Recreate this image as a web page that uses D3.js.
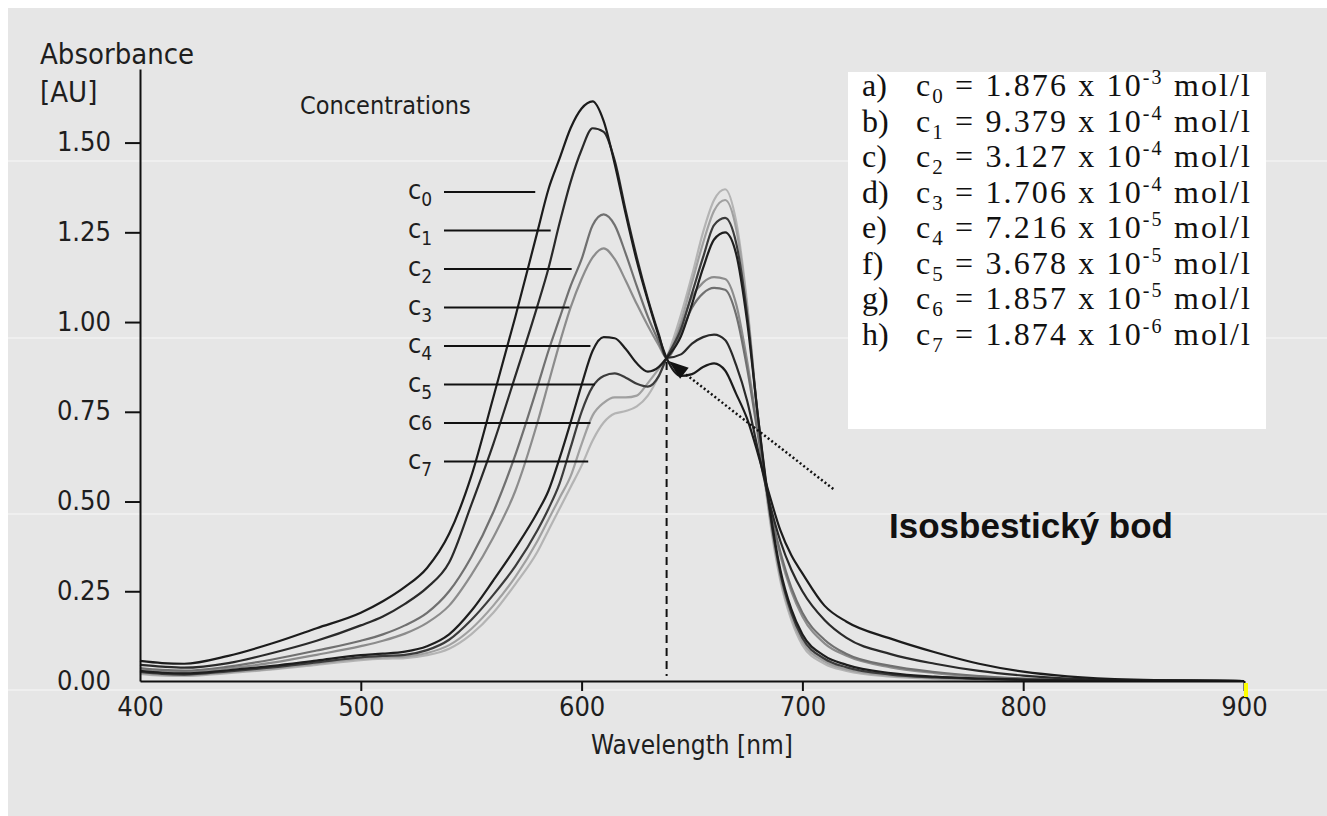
<!DOCTYPE html>
<html>
<head>
<meta charset="utf-8">
<script src="https://cdn.jsdelivr.net/npm/d3@7"></script>
<style>
  body { margin: 0; background: #fff; }
  .ax { font-family: "Liberation Sans Narrow", "Arial Narrow", "DejaVu Sans Condensed", sans-serif; font-stretch: condensed; fill: #1e1e1e; }
  .leg { font-family: "Liberation Serif", "DejaVu Serif", serif; fill: #111; }
</style>
</head>
<body>
<div id="chart"></div>
<script>
// Wavelength grid [nm] shared by all spectra.
const wavelengths = [400,410,420,440,460,480,500,510,520,530,540,550,560,570,580,585,590,595,600,605,610,615,620,625,630,635,638.5,645,650,655,660,665,670,675,680,685,690,695,700,710,720,740,760,780,800,820,850,900];

// Absorbance, one list per concentration.
const c0 = [.056,.050,.048,.070,.105,.147,.190,.222,.262,.315,.410,.570,.790,1.015,1.252,1.37,1.455,1.54,1.595,1.615,1.56,1.44,1.30,1.17,1.06,.96,.90,.85,.855,.875,.885,.865,.80,.73,.63,.52,.42,.35,.30,.21,.165,.118,.080,.048,.026,.013,.004,0];
const c1 = [.045,.040,.037,.050,.078,.112,.155,.180,.215,.260,.330,.490,.660,.850,1.045,1.15,1.275,1.39,1.48,1.54,1.53,1.45,1.31,1.18,1.065,.965,.90,.91,.94,.958,.965,.95,.88,.78,.64,.50,.39,.31,.25,.17,.12,.075,.048,.028,.015,.007,.002,0];
const c2 = [.036,.031,.029,.040,.060,.085,.112,.130,.155,.190,.250,.345,.470,.630,.820,.920,1.01,1.10,1.175,1.27,1.30,1.27,1.19,1.10,1.015,.945,.90,.97,1.04,1.08,1.095,1.09,1.02,.87,.68,.49,.36,.26,.19,.115,.075,.042,.025,.014,.007,.003,.001,0];
const c3 = [.031,.026,.025,.035,.051,.073,.097,.112,.132,.162,.210,.295,.400,.530,.720,.830,.94,1.04,1.12,1.18,1.205,1.175,1.115,1.05,.99,.935,.90,.99,1.07,1.11,1.125,1.12,1.05,.89,.69,.49,.35,.25,.18,.105,.07,.038,.022,.012,.006,.003,.001,0];
const c4 = [.028,.023,.021,.030,.042,.057,.072,.076,.082,.097,.130,.195,.280,.370,.470,.530,.62,.72,.825,.92,.958,.955,.925,.885,.862,.875,.90,.96,1.05,1.15,1.23,1.25,1.19,1.0,.73,.49,.31,.20,.13,.07,.045,.022,.012,.007,.004,.002,.001,0];
const c5 = [.025,.020,.018,.027,.038,.052,.066,.070,.073,.086,.115,.170,.240,.320,.420,.480,.55,.65,.75,.82,.85,.857,.845,.828,.82,.85,.90,.98,1.08,1.18,1.27,1.29,1.22,1.02,.73,.48,.30,.19,.12,.062,.038,.018,.010,.006,.003,.002,.001,0];
const c6 = [.022,.017,.016,.024,.034,.048,.062,.066,.068,.078,.100,.145,.210,.290,.390,.450,.51,.57,.66,.74,.775,.79,.79,.795,.83,.87,.90,1.0,1.11,1.22,1.31,1.34,1.26,1.04,.72,.47,.29,.18,.11,.055,.032,.015,.008,.005,.003,.002,.001,0];
const c7 = [.020,.015,.014,.022,.032,.045,.058,.062,.064,.072,.090,.130,.190,.270,.360,.420,.48,.54,.60,.67,.72,.745,.752,.765,.795,.85,.90,1.02,1.13,1.25,1.34,1.37,1.28,1.05,.72,.46,.28,.17,.10,.048,.028,.012,.006,.004,.002,.001,.001,0];

const series = [c0, c1, c2, c3, c4, c5, c6, c7];
const seriesColors = ["#1c1c1c", "#2a2a2a", "#707070", "#8c8c8c", "#1e1e1e", "#3c3c3c", "#a0a0a0", "#b4b4b4"];

// Concentration labels and where their pointer lines end [nm].
const labelNames = ["0","1","2","3","4","5","6","7"];
const labelEnds = [579, 586, 595.5, 594.5, 604, 606, 604, 603];

// Legend contents.
const legendLetters = ["a)","b)","c)","d)","e)","f)","g)","h)"];
const legendValues = ["1.876","9.379","3.127","1.706","7.216","3.678","1.857","1.874"];
const legendExps = ["-3","-4","-4","-4","-5","-5","-5","-6"];

// Axis ticks.
const xTicks = [400, 500, 600, 700, 800, 900];
const yTicks = [0, 0.25, 0.5, 0.75, 1.0, 1.25, 1.5];

// Isosbestic point and the tail of the arrow pointing at it.
const isoPoint = [638.5, 0.90];
const arrowTail = [714, 0.535];

const width = 1327, height = 816;
const margin = { top: 69, left: 140, bottom: 135, right: 83 };

let svg = d3.select("#chart").append("svg")
    .attr("width", width)
    .attr("height", height);

svg.append("rect")
    .attr("x", 8).attr("y", 8)
    .attr("width", width - 8).attr("height", height - 8)
    .attr("fill", "#e6e6e6");

// faint scan lines of the original
svg.append("g").selectAll("line")
    .data([161, 338, 514, 690])
    .join("line")
    .attr("x1", 8).attr("x2", width)
    .attr("y1", d => d).attr("y2", d => d)
    .attr("stroke", "#fff").attr("stroke-opacity", 0.7).attr("stroke-width", 1);

let x = d3.scaleLinear()
    .domain([400, 900])
    .range([margin.left, width - margin.right]);

let y = d3.scaleLinear()
    .domain([0, 1.705])
    .range([height - margin.bottom, margin.top]);

// Legend box
const legend = svg.append("g");
legend.append("rect")
    .attr("x", 848).attr("y", 72)
    .attr("width", 418).attr("height", 357)
    .attr("fill", "#fff");

legendLetters.forEach(function(l, i) {
    let by = 96 + i * 35.5;
    legend.append("text")
        .attr("class", "leg")
        .attr("x", 862).attr("y", by)
        .style("font-size", "32px")
        .text(l);
    let t = legend.append("text")
        .attr("class", "leg")
        .attr("x", 916).attr("y", by)
        .style("font-size", "32px")
        .attr("textLength", 334)
        .attr("lengthAdjust", "spacing");
    t.append("tspan").text("c");
    t.append("tspan").attr("dy", 7).style("font-size", "21px").text(i);
    t.append("tspan").attr("dy", -7).text(" = " + legendValues[i] + " x 10");
    t.append("tspan").attr("dy", -12).style("font-size", "20px").text(legendExps[i]);
    t.append("tspan").attr("dy", 12).text(" mol/l");
});

// Curves, lightest drawn first
let line = d3.line()
    .x((d, i) => x(wavelengths[i]))
    .y(d => y(d))
    .curve(d3.curveMonotoneX);

let order = d3.range(series.length).sort((a, b) => d3.color(seriesColors[b]).r - d3.color(seriesColors[a]).r);
svg.append("g")
    .selectAll("path")
    .data(order)
    .join("path")
    .attr("d", i => line(series[i]))
    .attr("fill", "none")
    .attr("stroke", i => seriesColors[i])
    .attr("stroke-width", 2.2)
    .attr("stroke-linejoin", "round");

// y-axis
let yAxis = d3.axisLeft(y)
    .tickValues(yTicks)
    .tickFormat(d3.format(".2f"))
    .tickSize(15)
    .tickSizeOuter(0)
    .tickPadding(14);
let yAxisEl = svg.append("g")
    .attr("transform", "translate(" + margin.left + ",0)")
    .call(yAxis);
yAxisEl.select(".domain").attr("stroke", "#111").attr("stroke-width", 2);
yAxisEl.selectAll(".tick line").attr("stroke", "#111").attr("stroke-width", 2)
    .filter(d => d === 0).remove();
yAxisEl.selectAll(".tick text")
    .attr("class", "ax")
    .attr("dy", "0.3em")
    .style("font-size", "27px");

// x-axis
let xAxis = d3.axisBottom(x)
    .tickValues(xTicks)
    .tickSize(10)
    .tickSizeOuter(0)
    .tickPadding(6);
let xAxisEl = svg.append("g")
    .attr("transform", "translate(0," + y(0) + ")")
    .call(xAxis);
xAxisEl.select(".domain").attr("stroke", "#111").attr("stroke-width", 2);
xAxisEl.selectAll(".tick line").attr("stroke", "#111").attr("stroke-width", 2)
    .filter(d => d === 400).remove();
xAxisEl.selectAll(".tick text")
    .attr("class", "ax")
    .style("font-size", "27px");

// little yellow mark at 900
svg.append("rect")
    .attr("x", x(900)).attr("y", y(0) + 2)
    .attr("width", 4).attr("height", 14)
    .attr("fill", "#ffff00");

// Axis titles
svg.append("text").attr("class", "ax").attr("x", 40).attr("y", 64)
    .style("font-size", "29px").text("Absorbance");
svg.append("text").attr("class", "ax").attr("x", 40).attr("y", 102)
    .style("font-size", "29px").text("[AU]");
svg.append("text").attr("class", "ax")
    .attr("x", x(650)).attr("y", 754)
    .attr("text-anchor", "middle")
    .style("font-size", "26px").text("Wavelength [nm]");
svg.append("text").attr("class", "ax").attr("x", 300).attr("y", 114)
    .style("font-size", "25px").text("Concentrations");

// Concentration labels with pointer lines
let lab = svg.append("g");
labelNames.forEach(function(n, i) {
    let ly = 192 + i * 38.5;
    lab.append("line")
        .attr("x1", 444).attr("x2", x(labelEnds[i]))
        .attr("y1", ly).attr("y2", ly)
        .attr("stroke", "#111").attr("stroke-width", 2);
    let t = lab.append("text").attr("class", "ax")
        .attr("x", 408).attr("y", ly + 7)
        .style("font-size", "27px");
    t.append("tspan").text("c");
    if (n === "6") t.append("tspan").style("font-size", "19px").text(n);
    else t.append("tspan").attr("dy", 7).style("font-size", "19px").text(n);
});

// Isosbestic point: dashed drop line and dotted arrow
svg.append("line")
    .attr("x1", x(isoPoint[0])).attr("x2", x(isoPoint[0]))
    .attr("y1", y(isoPoint[1]) + 4).attr("y2", y(0) - 5)
    .attr("stroke", "#111").attr("stroke-width", 2)
    .attr("stroke-dasharray", "8,5");

let tip = [x(isoPoint[0]) + 2, y(isoPoint[1]) + 3],
    tail = [x(arrowTail[0]), y(arrowTail[1])];
let ang = Math.atan2(tail[1] - tip[1], tail[0] - tip[0]);
let hl = 20, hw = 7;
let base = [tip[0] + hl * Math.cos(ang), tip[1] + hl * Math.sin(ang)];
svg.append("line")
    .attr("x1", tail[0]).attr("y1", tail[1])
    .attr("x2", base[0]).attr("y2", base[1])
    .attr("stroke", "#111").attr("stroke-width", 2.5)
    .attr("stroke-dasharray", "2,2.5");
svg.append("path")
    .attr("d", "M" + tip + "L" + [base[0] - hw * Math.sin(ang), base[1] + hw * Math.cos(ang)]
        + "L" + [base[0] + hw * Math.sin(ang), base[1] - hw * Math.cos(ang)] + "Z")
    .attr("fill", "#111");

svg.append("text")
    .attr("x", 889).attr("y", 538)
    .style("font-family", "'Liberation Sans', Arial, sans-serif")
    .style("font-weight", "bold")
    .style("font-size", "35px")
    .attr("fill", "#111")
    .text("Isosbestický bod");
</script>
</body>
</html>
